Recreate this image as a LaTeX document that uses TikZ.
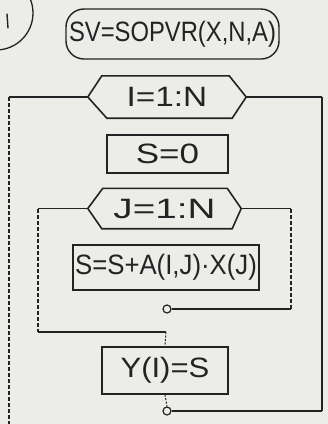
\documentclass[tikz,border=0pt]{standalone}
\usepackage{fontspec}
\setmainfont{Liberation Sans}
\usepackage{graphicx}
\definecolor{paper}{RGB}{236,236,232}
\definecolor{ink}{RGB}{35,35,38}
\newcommand{\hw}[2]{\scalebox{#1}[1]{#2}}
\tikzset{
  txt/.style={font=\fontsize{28}{28}\selectfont, text=ink, inner sep=0pt},
  blk/.style={txt, draw=ink, line width=1.4pt, rectangle},
  svbox/.style={txt, draw=ink, line width=1.4pt, rectangle, rounded corners=18pt},
  hexn/.style={txt, rectangle},
  jn/.style={circle, draw=ink, line width=1.2pt, minimum size=8pt, inner sep=0pt},
  hl/.style={draw=ink, line width=1.6pt},
  vl/.style={draw=ink, line width=1.3pt, dash pattern=on 4pt off 2pt},
  vr/.style={draw=ink, line width=1.3pt},
  dl/.style={draw=ink, line width=1pt, dash pattern=on 2pt off 1.5pt}
}
\begin{document}
\begin{tikzpicture}[x=1pt,y=-1pt]
\fill[paper] (0,0) rectangle (328,424);
\useasboundingbox (0,0) rectangle (328,424);
\begin{scope}
\clip (0,0) rectangle (328,424);
\draw[ink, line width=1.3pt] (-4,13) circle[radius=37];
\end{scope}
\draw[ink, line width=1.4pt, line cap=round] (7,14) -- (8,28);

\node[svbox, minimum width=213pt, minimum height=50pt] (sv) at (172.5,34) {\hw{0.85}{SV=SOPVR(X,N,A)}};

\node[hexn, minimum width=158pt, minimum height=42pt] (h1) at (167,97) {\hw{1.19}{I=1:N}};
\draw[hl] (h1.west) -- ([xshift=14pt]h1.north west) -- ([xshift=-17pt]h1.north east) -- (h1.east) -- ([xshift=-14pt]h1.south east) -- ([xshift=19pt]h1.south west) -- cycle;

\node[blk, minimum width=121pt, minimum height=38pt] (s0) at (167.5,154) {\hw{1.25}{S=0}};

\node[hexn, minimum width=153pt, minimum height=40pt] (h2) at (164.5,208.5) {\hw{1.38}{J=1:N}};
\draw[hl] (h2.west) -- ([xshift=15pt]h2.north west) -- ([xshift=-14pt]h2.north east) -- (h2.east) -- ([xshift=-9pt]h2.south east) -- ([xshift=14pt]h2.south west) -- cycle;

\node[blk, minimum width=186pt, minimum height=45pt] (sb) at (166,267.5) {\hw{0.92}{S=S+A(I,J)·X(J)}};

\node[jn] (c1) at (167,309) {};

\node[blk, minimum width=126pt, minimum height=47pt] (yb) at (165,370.5) {\hw{1.11}{Y(I)=S}};

\node[jn] (c2) at (167,411) {};

\coordinate (oLt) at (9,97);
\coordinate (oLb) at (9,424);
\coordinate (oRt) at (322,97);
\coordinate (oRb) at (322,411);
\coordinate (iLt) at (38,208.5);
\coordinate (iLb) at (38,332);
\coordinate (jY) at (166,332);
\coordinate (iRt) at (291,208.5);
\coordinate (iRb) at (291,309);

\draw[hl] (h1.west) -- (oLt);
\draw[vl] (oLt) -- (oLb);
\draw[hl] (h1.east) -- (oRt);
\draw[vr] (oRt) -- (oRb);
\draw[hl] (oRb) -- (c2.east);

\draw[hl] (h2.west) -- (iLt);
\draw[vl] (iLt) -- (iLb);
\draw[hl] (iLb) -- (jY);
\draw[dl] (jY) -- (yb.north);

\draw[hl] (h2.east) -- (iRt);
\draw[vl] (iRt) -- (iRb);
\draw[hl] (iRb) -- (c1.east);

\draw[dl] (yb.south) -- (c2.north);
\end{tikzpicture}
\end{document}
